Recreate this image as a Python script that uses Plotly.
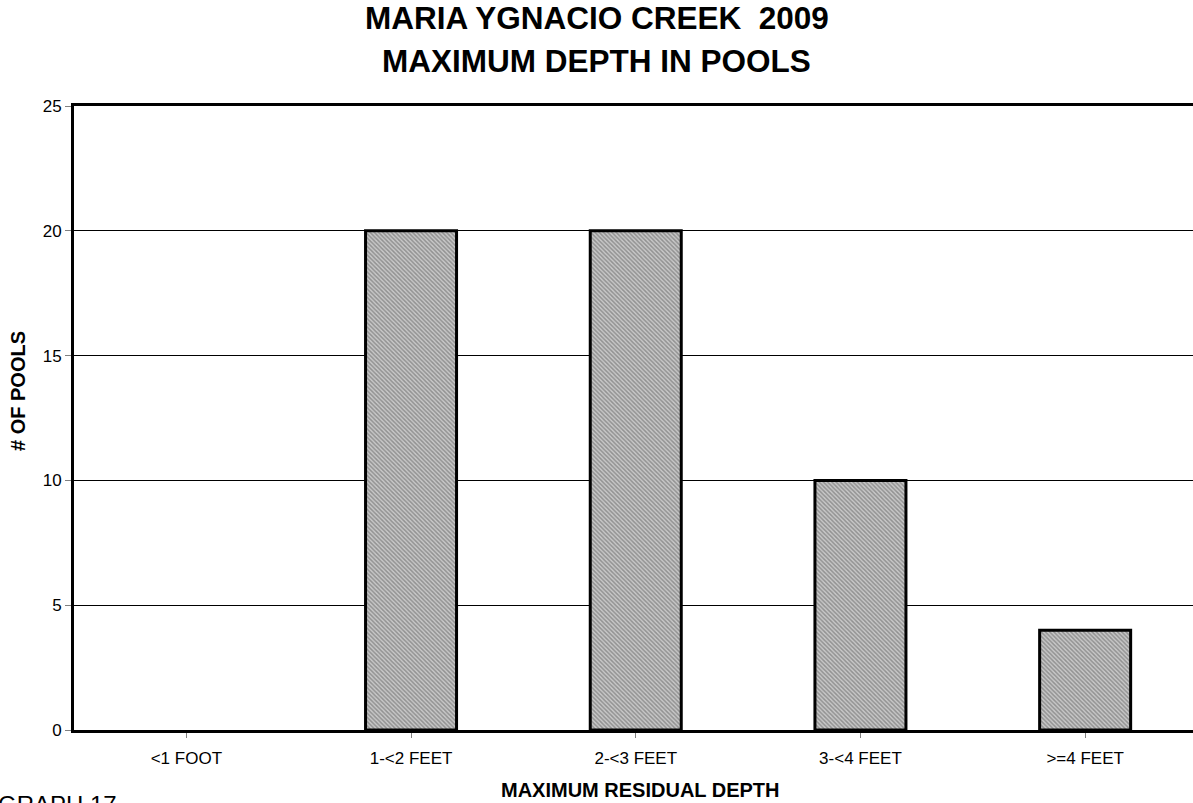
import plotly.graph_objects as go

categories = ["<1 FOOT", "1-<2 FEET", "2-<3 FEET", "3-<4 FEET", ">=4 FEET"]
pools = [0, 20, 20, 10, 4]
y_ticks = [0, 5, 10, 15, 20, 25]

title_lines = ["MARIA YGNACIO CREEK  2009", "MAXIMUM DEPTH IN POOLS"]
x_title = "MAXIMUM RESIDUAL DEPTH"
y_title = "# OF POOLS"
footer = "GRAPH 17"

FONT = "Liberation Sans, Arial, sans-serif"
W, H = 1193, 803
L, T, B = 74, 106, 73
PW, PH = W - L, H - T - B

fig = go.Figure(
    go.Bar(
        x=list(range(len(categories))),
        y=pools,
        width=0.405,
        marker=dict(
            color="#999999",
            line=dict(color="black", width=[0 if v == 0 else 3 for v in pools]),
            pattern=dict(shape="\\", fgcolor="#5a5a5a", bgcolor="#c8c8c8", size=3, solidity=0.5),
        ),
    )
)

fig.update_layout(
    width=W,
    height=H,
    paper_bgcolor="white",
    plot_bgcolor="white",
    margin=dict(l=L, r=0, t=T, b=B, autoexpand=False),
    showlegend=False,
    font=dict(family=FONT, color="black"),
)

fig.update_xaxes(
    range=[-0.5, 4.48],
    tickmode="array",
    tickvals=list(range(len(categories))),
    ticktext=categories,
    tickson="boundaries",
    ticks="outside",
    ticklen=5,
    tickcolor="#808080",
    tickwidth=1,
    ticklabelstandoff=6,
    tickfont=dict(family=FONT, size=17, color="black"),
    showline=True,
    linecolor="black",
    linewidth=3,
    mirror=True,
    showgrid=False,
    zeroline=False,
    automargin=False,
)

fig.update_yaxes(
    range=[0, 25],
    tickmode="array",
    tickvals=y_ticks,
    ticks="outside",
    ticklen=6,
    tickcolor="#808080",
    tickwidth=1,
    tickfont=dict(family=FONT, size=17, color="black"),
    showline=True,
    linecolor="black",
    linewidth=3,
    showgrid=True,
    gridcolor="black",
    gridwidth=1,
    zeroline=False,
    automargin=False,
)

def px_x(x):
    return (x - L) / PW

def px_y(y):
    return (H - B - y) / PH

# title lines
for txt, yc in zip(title_lines, [18, 61]):
    fig.add_annotation(
        text="<b>" + txt + "</b>", xref="paper", yref="paper",
        x=px_x(W / 2), y=px_y(yc), xanchor="center", yanchor="middle",
        showarrow=False, font=dict(family=FONT, size=31.5, color="black"),
    )

fig.add_annotation(
    text="<b>" + x_title + "</b>", xref="paper", yref="paper",
    x=px_x(640), y=px_y(790), xanchor="center", yanchor="middle",
    showarrow=False, font=dict(family=FONT, size=20, color="black"),
)

fig.add_annotation(
    text="<b>" + y_title + "</b>", xref="paper", yref="paper",
    x=px_x(18), y=px_y(391), xanchor="center", yanchor="middle",
    textangle=-90, showarrow=False, font=dict(family=FONT, size=20, color="black"),
)

fig.add_annotation(
    text=footer, xref="paper", yref="paper",
    x=px_x(-4), y=px_y(789), xanchor="left", yanchor="top",
    showarrow=False, font=dict(family=FONT, size=24, color="black"),
)

fig.write_html(
    "out.html",
    config={"displayModeBar": False},
    post_script="document.body.style.margin='0';document.body.style.overflow='hidden';",
)
